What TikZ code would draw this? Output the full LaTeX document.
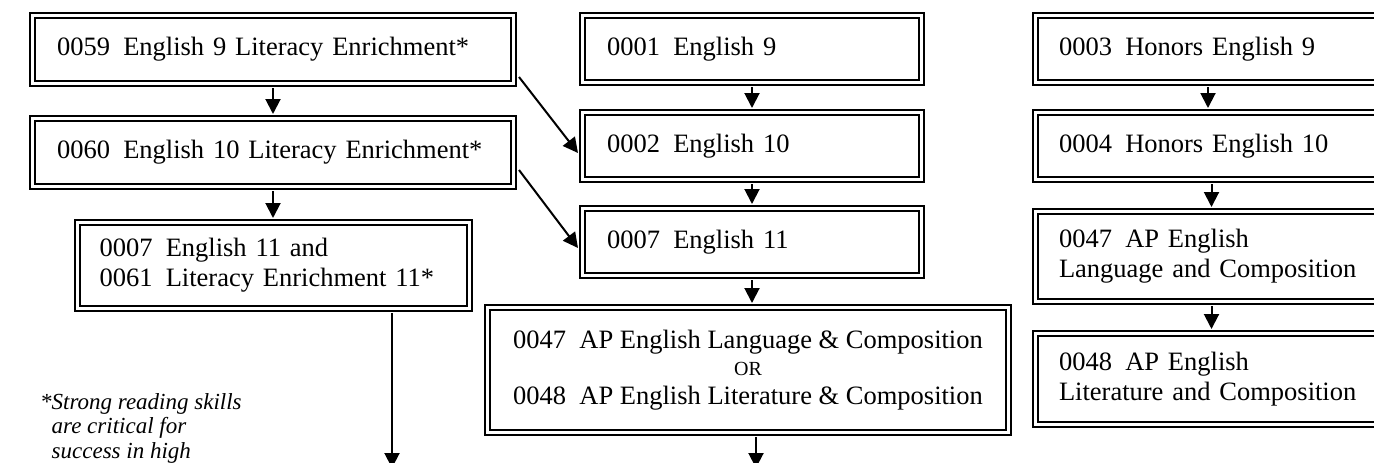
\documentclass[tikz,border=0pt]{standalone}
\usepackage{fontspec}
\setmainfont{Liberation Serif}
\usetikzlibrary{arrows.meta}
\tikzset{
  box/.style={draw, double, line width=2pt, double distance=3pt, anchor=north west,
    inner ysep=0pt, align=left, font=\fontsize{26.5}{30}\selectfont},
  arr/.style={-{Triangle[width=15pt,length=15pt]}, line width=2pt,
    shorten <=3.5pt, shorten >=3.5pt},
}
\begin{document}
\begin{tikzpicture}[x=1pt,y=-1pt]
\useasboundingbox (0,0) rectangle (1374,463);
\fill[white] (0,0) rectangle (1374,463);
\clip (0,0) rectangle (1374,463);
% left column
\node[box, minimum width=481pt, minimum height=68.5pt, inner xsep=24.5pt, text width=432pt] (B59) at (31.5,14) {0059\enspace English 9 Literacy Enrichment*};
\node[box, minimum width=481pt, minimum height=68pt, inner xsep=24.5pt, text width=432pt] (B60) at (31.5,117.5) {0060\enspace English 10 Literacy Enrichment*};
\node[box, minimum width=392pt, minimum height=86pt, inner xsep=22pt, text width=348pt] (B7L) at (76.5,221.5) {0007\enspace English 11 and\\0061\enspace Literacy Enrichment 11*};
% middle column
\node[box, minimum width=339pt, minimum height=67.5pt, inner xsep=24.5pt, text width=290pt] (B1) at (581.5,14) {0001\enspace English 9};
\node[box, minimum width=339pt, minimum height=67pt, inner xsep=24.5pt, text width=290pt] (B2) at (581.5,111.5) {0002\enspace English 10};
\node[box, minimum width=339pt, minimum height=67pt, inner xsep=24.5pt, text width=290pt] (B7M) at (581.5,207.5) {0007\enspace English 11};
\node[box, align=center, minimum width=521pt, minimum height=125pt, inner xsep=0pt] (BAP) at (486.5,306.5) {0047\enspace AP English Language \& Composition\\[-3pt]{\fontsize{20}{20}\selectfont OR}\\[-1pt]0048\enspace AP English Literature \& Composition};
% right column
\node[box, minimum width=362pt, minimum height=67.5pt, inner xsep=23.5pt, text width=315pt] (B3) at (1034.5,14) {0003\enspace Honors English 9};
\node[box, minimum width=362pt, minimum height=67pt, inner xsep=23.5pt, text width=315pt] (B4) at (1034.5,111.5) {0004\enspace Honors English 10};
\node[box, minimum width=362pt, minimum height=90pt, inner xsep=23.5pt, text width=315pt] (B47) at (1034.5,210.5) {0047\enspace AP English\\Language and Composition};
\node[box, minimum width=362pt, minimum height=91pt, inner xsep=23.5pt, text width=315pt] (B48) at (1034.5,332.5) {0048\enspace AP English\\Literature and Composition};
% footnote
\node[anchor=base west, align=left, inner sep=0pt, font=\fontsize{23}{24.5}\selectfont\itshape] (note) at (40,458) {*Strong reading skills\\\hphantom{*}are critical for\\\hphantom{*}success in high};
% arrow columns
\coordinate (xa) at (273,0);
\coordinate (xb) at (752,0);
\coordinate (xc) at (1208,0);
\coordinate (xd) at (1211.5,0);
\coordinate (e1) at (392,468);
\coordinate (e2) at (756,468);
\draw[arr] (B59.south -| xa) -- (B60.north -| xa);
\draw[arr] (B60.south -| xa) -- (B7L.north -| xa);
\draw[arr, shorten >=0pt] (B7L.south -| e1) -- (e1);
\draw[arr] (B1.south -| xb) -- (B2.north -| xb);
\draw[arr] (B2.south -| xb) -- (B7M.north -| xb);
\draw[arr] (B7M.south -| xb) -- (BAP.north -| xb);
\draw[arr, shorten >=0pt] (BAP.south -| e2) -- (e2);
\draw[arr] (B3.south -| xc) -- (B4.north -| xc);
\draw[arr] (B4.south -| xd) -- (B47.north -| xd);
\draw[arr] (B47.south -| xd) -- (B48.north -| xd);
\draw[arr, shorten <=0pt, shorten >=0pt] ([xshift=4.5pt,yshift=7.5pt]B59.south east) -- ([xshift=-3.5pt,yshift=-7pt]B2.west);
\draw[arr, shorten <=0pt, shorten >=0pt] ([xshift=4.5pt,yshift=17.5pt]B60.south east) -- ([xshift=-3.5pt,yshift=-6pt]B7M.west);
\end{tikzpicture}
\end{document}
